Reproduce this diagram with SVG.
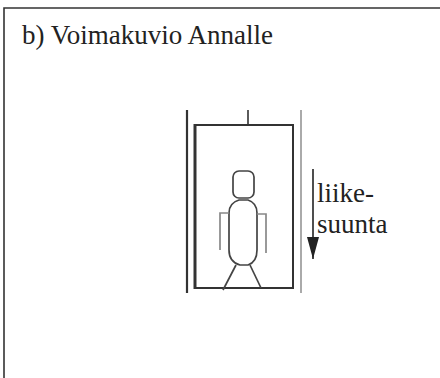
<svg xmlns="http://www.w3.org/2000/svg" width="440" height="378" viewBox="0 0 440 378">
  <defs>
    <style>
      .frame { fill: none; stroke: #333; stroke-width: 1.6; }
      .label { font-family: 'Liberation Serif', 'DejaVu Serif', 'Times New Roman', serif; font-size: 27px; fill: #222; }
      .rail-dark { stroke: #333; stroke-width: 2.2; }
      .rail-light { stroke: #aaa; stroke-width: 2; }
      .cabin { fill: none; stroke: #333; stroke-width: 2; }
      .figure { fill: none; stroke: #444; stroke-width: 1.7; stroke-linejoin: round; }
      .limb { fill: none; stroke: #888; stroke-width: 1.7; }
      .arrow { stroke: #222; stroke-width: 1.6; }
    </style>
    <marker id="arrowhead" viewBox="0 0 22 12" refX="22" refY="6" markerWidth="22" markerHeight="12" markerUnits="userSpaceOnUse" orient="auto">
      <path d="M0,0 L22,6 L0,12 Z" fill="#222"/>
    </marker>
  </defs>

  <rect width="440" height="378" fill="#fff"/>

  <!-- outer panel: top and left border only -->
  <g id="panel">
    <path class="frame" d="M4,378 L4,8 L440,8"/>
    <text class="label" x="22" y="44">b) Voimakuvio Annalle</text>
  </g>

  <!-- lift shaft rails -->
  <g id="rails">
    <line class="rail-dark" x1="187" y1="110" x2="187" y2="293"/>
    <line class="rail-light" x1="301" y1="110" x2="301" y2="293"/>
  </g>

  <!-- lift cabin with its hanging cable -->
  <g id="cabin">
    <line x1="248" y1="110" x2="248" y2="125" stroke="#333" stroke-width="1.6"/>
    <rect class="cabin" x="195" y="125" width="98" height="163"/>
    <line x1="195" y1="124" x2="195" y2="289" stroke="#333" stroke-width="3"/>
  </g>

  <!-- passenger -->
  <g id="passenger">
    <rect class="figure" x="233" y="171" width="21" height="27" rx="6"/>
    <path class="figure" d="M239,200 L248,200 Q257,203 257,213 L257,250 Q257,262 248,265 L240,265 Q229,262 229,250 L229,213 Q229,203 239,200 Z"/>
    <path class="limb" d="M229,213 L220,213 L220,250"/>
    <path class="limb" d="M257,214 L266,214 L266,253"/>
    <path class="figure" d="M236,265 L223,290"/>
    <path class="figure" d="M250,265 L261,288"/>
  </g>

  <!-- direction of motion -->
  <g id="connectors">
    <line class="arrow" x1="313" y1="169" x2="313" y2="259" marker-end="url(#arrowhead)"/>
  </g>
  <g id="motion-label">
    <text class="label" x="317" y="202">liike-</text>
    <text class="label" x="317" y="233">suunta</text>
  </g>
</svg>
